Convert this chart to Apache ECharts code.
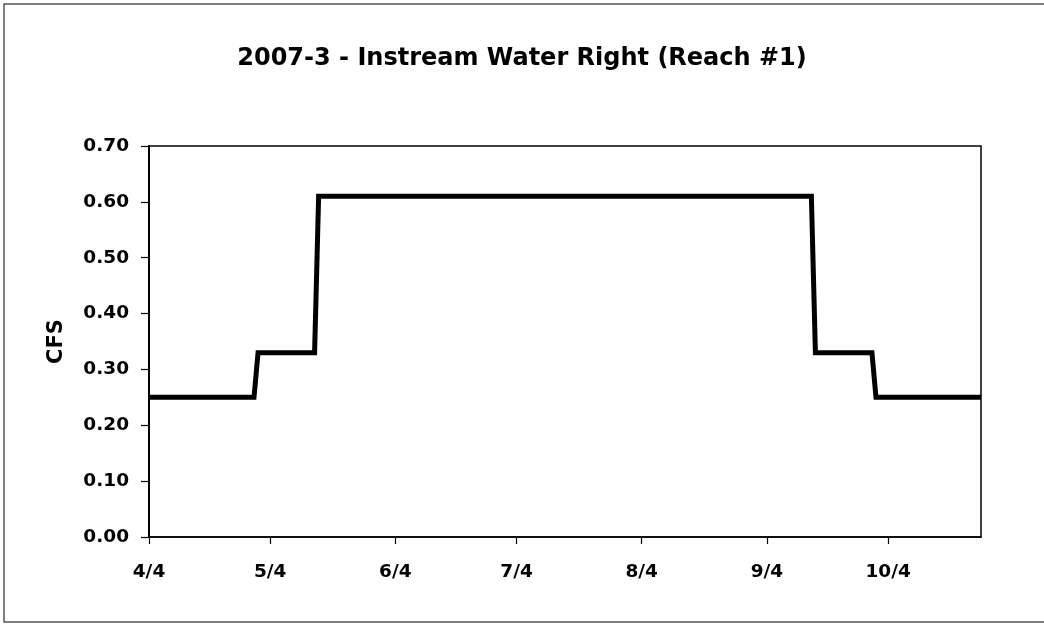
<!DOCTYPE html>
<html>
<head>
<meta charset="utf-8">
<script src="https://cdn.jsdelivr.net/npm/echarts@6/dist/echarts.min.js"></script>
<style>
html,body{margin:0;padding:0;background:#fff;}
#chart{width:1044px;height:624px;}
</style>
</head>
<body>
<div id="chart"></div>
<script>
// Day-of-year (2007) for tick positions and their labels
const tickDays = [94, 124, 155, 185, 216, 247, 277];
const tickLabels = ['4/4', '5/4', '6/4', '7/4', '8/4', '9/4', '10/4'];
// Step schedule: day-of-year and flow (CFS)
const stepDays = [94, 120, 121, 135, 136, 258, 259, 273, 274, 300];
const flowCfs = [0.25, 0.25, 0.33, 0.33, 0.61, 0.61, 0.33, 0.33, 0.25, 0.25];
const yTicks = [0, 0.1, 0.2, 0.3, 0.4, 0.5, 0.6, 0.7];

const FONT = 'DejaVu Sans';
const chart = echarts.init(document.getElementById('chart'), null, {renderer: 'canvas'});
chart.setOption({
  backgroundColor: '#fff',
  animation: false,
  title: {
    text: '2007-3 - Instream Water Right (Reach #1)',
    left: 'center',
    top: 42,
    textStyle: {fontFamily: FONT, fontWeight: 'bold', fontSize: 24, color: '#000'}
  },
  graphic: [{
    type: 'rect',
    shape: {x: 4, y: 4, width: 1060, height: 618},
    style: {fill: 'none', stroke: '#555', lineWidth: 1.5},
    silent: true
  }],
  grid: {
    left: 149, right: 63, top: 146, bottom: 87,
    show: true, borderColor: '#000', borderWidth: 1.5, backgroundColor: 'transparent'
  },
  xAxis: {
    type: 'value',
    min: tickDays[0],
    max: stepDays[stepDays.length - 1],
    splitLine: {show: false},
    axisLine: {show: true, onZero: false, lineStyle: {color: '#000', width: 1.5}},
    axisTick: {show: true, customValues: tickDays, length: 7, inside: false, lineStyle: {color: '#000', width: 1.2}},
    axisLabel: {
      customValues: tickDays,
      margin: 26,
      fontFamily: FONT, fontWeight: 'bold', fontSize: 18.5, color: '#000',
      formatter: function (v) { const i = tickDays.indexOf(v); return i >= 0 ? tickLabels[i] : ''; }
    }
  },
  yAxis: {
    type: 'value',
    min: yTicks[0],
    max: yTicks[yTicks.length - 1],
    interval: 0.1,
    name: 'CFS',
    nameLocation: 'middle',
    nameGap: 82,
    nameRotate: 90,
    nameTextStyle: {fontFamily: FONT, fontWeight: 'bold', fontSize: 21, color: '#000'},
    splitLine: {show: false},
    axisLine: {show: true, lineStyle: {color: '#000', width: 2}},
    axisTick: {show: true, length: 8, inside: false, lineStyle: {color: '#000', width: 1.2}},
    axisLabel: {
      margin: 20,
      fontFamily: FONT, fontWeight: 'bold', fontSize: 18.5, color: '#000',
      formatter: function (v) { return v.toFixed(2); }
    }
  },
  series: [{
    type: 'line',
    data: stepDays.map((d, i) => [d, flowCfs[i]]),
    showSymbol: false,
    symbol: 'none',
    lineStyle: {color: '#000', width: 5, join: 'miter'},
    silent: true
  }]
});
</script>
</body>
</html>
